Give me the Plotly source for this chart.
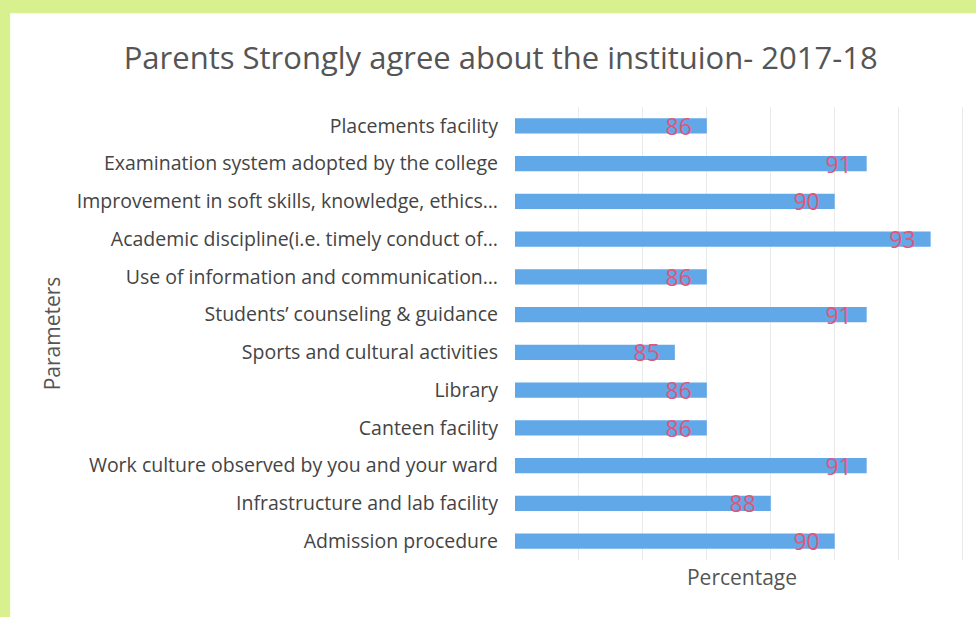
import plotly.graph_objects as go

# parameters listed bottom-to-top as plotly draws them
parametros = [
    "Admission procedure",
    "Infrastructure and lab facility",
    "Work culture observed by you and your ward",
    "Canteen facility",
    "Library",
    "Sports and cultural activities",
    "Students’ counseling & guidance",
    "Use of information and communication…",
    "Academic discipline(i.e. timely conduct of…",
    "Improvement in soft skills, knowledge, ethics…",
    "Examination system adopted by the college",
    "Placements facility",
]
porcentajes = [90, 88, 91, 86, 86, 85, 91, 86, 93, 90, 91, 86]

fig = go.Figure()

fig.add_trace(go.Bar(
    x=porcentajes,
    y=parametros,
    orientation='h',
    marker=dict(color='#60A8E8', line=dict(width=0)),
    text=porcentajes,
    texttemplate="%{text}\u00a0\u00a0",
    textposition='inside',
    insidetextanchor='end',
    textangle=0,
    insidetextfont=dict(family="Open Sans", size=23, color='#E0577A'),
    cliponaxis=False,
    hoverinfo='skip'
))

# white card on the green page
fig.add_shape(
    type="rect", xref="paper", yref="paper",
    x0=-1.112, x1=2, y0=-1, y1=1.207,
    fillcolor="white", line=dict(width=0), layer="below"
)

fig.update_layout(
    title=dict(
        text="Parents Strongly agree about the instituion- 2017-18",
        x=0.513, xanchor='center', y=0.905, yanchor='middle',
        font=dict(family="Open Sans", size=31, color='#555555')
    ),
    xaxis=dict(
        range=[80, 94.2],
        dtick=2,
        showticklabels=False,
        showgrid=True,
        gridcolor='#EBEBEB',
        gridwidth=1,
        zeroline=False,
        showline=False,
        title=dict(text="Percentage", font=dict(family="Open Sans", size=21, color='#555555'), standoff=10),
    ),
    yaxis=dict(
        showgrid=False,
        showline=False,
        ticks='',
        ticklabelstandoff=16,
        tickfont=dict(family="Open Sans", size=19.5, color='#444444'),
        title=dict(text="Parameters", font=dict(family="Open Sans", size=21, color='#555555'), standoff=10),
    ),
    bargap=0.6,
    uniformtext=dict(minsize=23, mode='show'),
    showlegend=False,
    width=976,
    height=617,
    margin=dict(l=515, r=7, t=107, b=57),
    paper_bgcolor='#D8F08E',
    plot_bgcolor='white',
)

fig.write_html("out.html", config=dict(displayModeBar=False),
               post_script="document.body.style.margin='0';")
